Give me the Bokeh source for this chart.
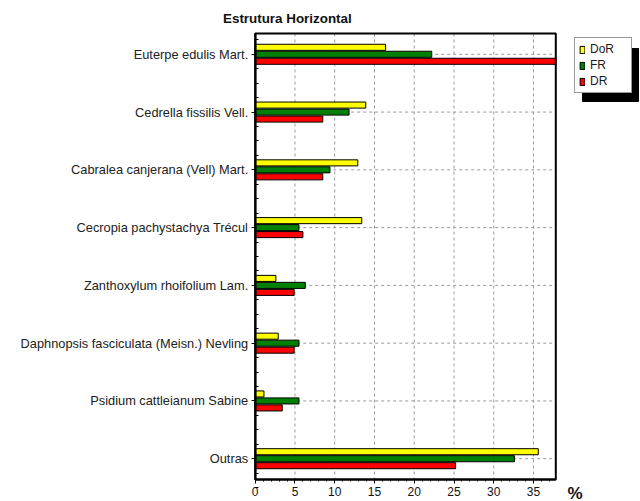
from bokeh.plotting import figure
from bokeh.models import (Range1d, FixedTicker, Legend, LegendItem, Label,
                          ColumnDataSource)
from bokeh.embed import file_html
from bokeh.resources import INLINE

# ---------------- data ----------------
species = ["Euterpe edulis Mart.", "Cedrella fissilis Vell.",
           "Cabralea canjerana (Vell) Mart.", "Cecropia pachystachya Trécul",
           "Zanthoxylum rhoifolium Lam.", "Daphnopsis fasciculata (Meisn.) Nevling",
           "Psidium cattleianum Sabine", "Outras"]
dor = [16.4, 13.9, 12.9, 13.4, 2.6, 2.9, 1.1, 35.6]
fr = [22.2, 11.8, 9.4, 5.5, 6.3, 5.5, 5.5, 32.6]
dr = [37.8, 8.5, 8.5, 6.0, 4.9, 4.9, 3.4, 25.2]
series_names = ["DoR", "FR", "DR"]
series_colors = ["#FFFF00", "#008000", "#FF0000"]
x_ticks = [0, 5, 10, 15, 20, 25, 30, 35]
x_max = 37.8
title_text = "Estrutura Horizontal"
unit_text = "%"

# ---------------- layout (pixels) ----------------
W, H = 640, 501
PX_LEFT, PX_RIGHT = 254.7, 555.3   # plot box in canvas pixels
PX_TOP, PX_BOTTOM = 33.0, 479.0
LEG_L, LEG_T, LEG_B = 574, 40, 93  # legend box
LEG_R = 630
SHADOW = 8
n = len(species)
y_top, y_bot = -0.36, n - 1 + 0.36
sx = (PX_RIGHT - PX_LEFT) / x_max
sy = (PX_BOTTOM - PX_TOP) / (y_bot - y_top)


def dx(px):
    return (px - PX_LEFT) / sx


def dy(py):
    return y_top + (py - PX_TOP) / sy


FONT = "Liberation Sans"
idx = list(range(n))

p = figure(width=W, height=H, output_backend="svg", toolbar_location=None,
           x_range=Range1d(dx(0), dx(W)), y_range=Range1d(dy(H), dy(0)),
           min_border_left=0, min_border_right=0, min_border_top=0,
           min_border_bottom=0)
p.background_fill_color = "white"
p.border_fill_color = "white"
p.outline_line_color = None
p.xgrid.visible = False
p.ygrid.visible = False

# grid lines restricted to the plot box
gx = x_ticks[1:]
p.segment(x0=gx, y0=[y_top] * len(gx), x1=gx, y1=[y_bot] * len(gx),
          line_color="#9a9a9a", line_dash="3 3", line_width=1)
p.segment(x0=[0] * n, y0=idx, x1=[x_max] * n, y1=idx,
          line_color="#9a9a9a", line_dash="3 3", line_width=1)

off = 0.121
h = 0.105
renderers = []
for vals, shift, col in zip([dor, fr, dr], [-off, 0, off], series_colors):
    src = ColumnDataSource(dict(y=[i + shift for i in idx], right=vals))
    r = p.hbar(y="y", right="right", left=0, height=h, source=src,
               fill_color=col, line_color="black", line_width=1)
    renderers.append(r)

# plot box
p.quad(left=[0], right=[x_max], top=[y_top], bottom=[y_bot],
       fill_color=None, line_color="black", line_width=2)

# legend drop shadow
p.quad(left=[dx(LEG_L + SHADOW)], right=[dx(LEG_R + SHADOW)],
       top=[dy(LEG_T + SHADOW)], bottom=[dy(LEG_B + SHADOW)],
       fill_color="black", line_color="black")

# axes fixed at the plot box
xa = p.xaxis[0]
xa.fixed_location = y_bot
xa.bounds = (0, x_max)
xa.ticker = FixedTicker(ticks=x_ticks,
                        minor_ticks=[v for v in range(1, int(x_max) + 1) if v % 5])
xa.axis_line_width = 2
xa.major_tick_out = 4
xa.major_tick_in = 0
xa.minor_tick_out = 2
xa.minor_tick_in = 0
xa.major_label_standoff = 3
xa.major_label_text_font = FONT
xa.major_label_text_font_size = "12px"
xa.major_label_text_color = "#111111"

ya = p.yaxis[0]
ya.fixed_location = 0
ya.bounds = (y_top, y_bot)
minor = [k / 4 for k in range(-1, 4 * n) if k % 4 != 0]
ya.ticker = FixedTicker(ticks=idx, minor_ticks=minor)
ya.major_label_overrides = {i: s for i, s in zip(idx, species)}
ya.axis_line_width = 2
ya.major_tick_out = 4
ya.major_tick_in = 0
ya.minor_tick_in = 3
ya.minor_tick_out = 0
ya.major_label_standoff = 3
ya.major_label_text_font = FONT
ya.major_label_text_font_size = "12.8px"
ya.major_label_text_color = "#222222"

# title and unit label
p.add_layout(Label(x=dx(222.5), y=dy(18), text=title_text, text_font=FONT,
                   text_font_size="13.4px", text_font_style="bold",
                   text_baseline="middle", text_color="#111111"))
p.add_layout(Label(x=dx(567), y=dy(483), text=unit_text, text_font=FONT,
                   text_font_size="17px", text_font_style="bold",
                   text_baseline="top", text_color="#111111"))

# legend
main = Legend(items=[LegendItem(label=s, renderers=[r]) for s, r in zip(series_names, renderers)],
              location=(LEG_L, H - LEG_B))
main.glyph_width = 6
main.glyph_height = 9
main.label_height = 14
main.label_width = 37
main.label_standoff = 5
main.spacing = 2
main.padding = 4
main.margin = 0
main.label_text_font = FONT
main.label_text_font_size = "12px"
main.label_text_color = "#1a1a1a"
main.background_fill_color = "white"
main.background_fill_alpha = 1
main.border_line_color = "#333333"
main.border_line_width = 1
p.add_layout(main, "center")

open("out.html", "w").write(file_html(p, INLINE))
